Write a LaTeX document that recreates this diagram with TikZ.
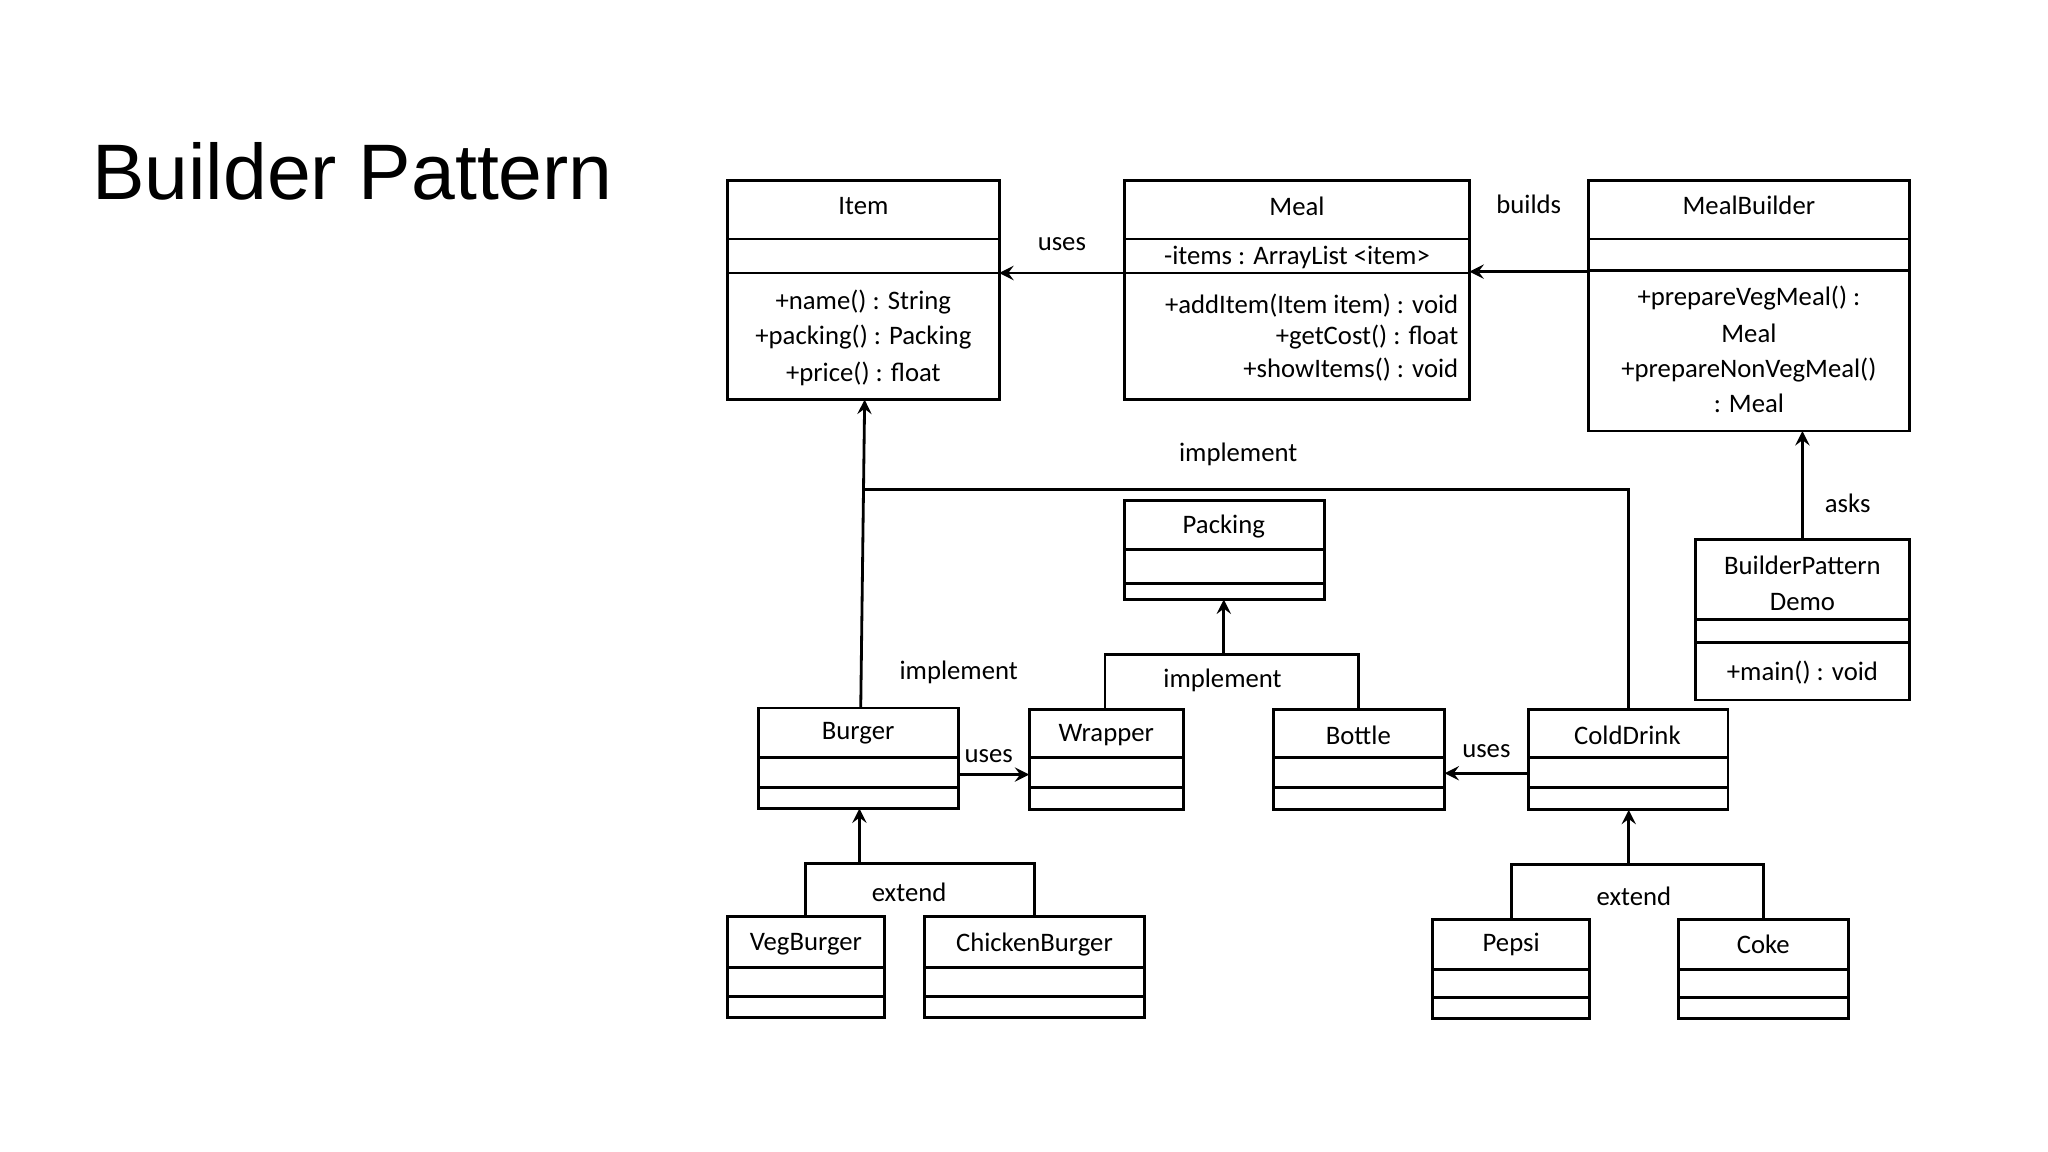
\documentclass[tikz,border=0pt]{standalone}
\usepackage{fontspec}
\setmainfont{Carlito}
\newfontfamily\titlefont{Liberation Sans}
\usetikzlibrary{calc}

\tikzset{
	box/.style = {thick},
	txt/.style = {font=\fontsize{7.6}{9}\selectfont, inner sep=0pt},
	conn/.style = {thick},
	arr/.style = {thick, -stealth}
}

% box with two compartment lines
\newcommand{\umlbox}[7]{%
	\draw[box] (#2,#3) rectangle (#4,#5);
	\draw[box] (#2,#6) -- (#4,#6);
	\draw[box] (#2,#7) -- (#4,#7);
	\coordinate (#1) at ($(#2,#3)!0.5!(#4,#5)$);
}

\begin{document}
\begin{tikzpicture}[x=0.01306cm, y=-0.01306cm]

	\useasboundingbox (0,0) rectangle (1568,882);

	% title
	\node[anchor=west, inner sep=0pt, font=\titlefont\fontsize{22.4}{26}\selectfont] (title) at (70,131) {Builder Pattern};

% Define boxes.

	\umlbox{item}{557}{138}{765}{306}{183}{209}
	\umlbox{meal}{861}{138}{1125}{306}{183}{209}
	\umlbox{mealBuilder}{1216}{138}{1462}{330}{183}{207}
	\umlbox{demo}{1298}{413}{1462}{536}{474}{492}
	\umlbox{packing}{861}{383}{1014}{459}{421}{447}
	\umlbox{burger}{581}{542}{734}{619}{580}{603}
	\umlbox{wrapper}{788}{543}{906}{620}{580}{603}
	\umlbox{bottle}{975}{543}{1106}{620}{580}{603}
	\umlbox{coldDrink}{1170}{543}{1323}{620}{580}{603}
	\umlbox{vegBurger}{557}{702}{677}{779}{741}{763}
	\umlbox{chickenBurger}{708}{702}{876}{779}{741}{763}
	\umlbox{pepsi}{1097}{704}{1217}{780}{742}{764}
	\umlbox{coke}{1285}{704}{1415}{780}{742}{764}

% Texts.

	\node[txt] (itemName) at (661,158) {Item};
	\node[txt] (itemM1) at (661,231) {+name() : String};
	\node[txt] (itemM2) at (661,258) {+packing() : Packing};
	\node[txt] (itemM3) at (661,286) {+price() : float};

	\node[txt] (mealName) at (993,158) {Meal};
	\node[txt] (mealAttr) at (993,197) {-items : ArrayList <item>};
	\node[txt, anchor=east] (mealM1) at (1117,234) {+addItem(Item item) : void};
	\node[txt, anchor=east] (mealM2) at (1117,258) {+getCost() : float};
	\node[txt, anchor=east] (mealM3) at (1117,283) {+showItems() : void};

	\node[txt] (builderName) at (1339,157) {MealBuilder};
	\node[txt] (builderM1) at (1339,228) {+prepareVegMeal() :};
	\node[txt] (builderM2) at (1339,255) {Meal};
	\node[txt] (builderM3) at (1339,283) {+prepareNonVegMeal()};
	\node[txt] (builderM4) at (1339,309) {: Meal};

	\node[txt] (demoName1) at (1380,433) {BuilderPattern};
	\node[txt] (demoName2) at (1380,461) {Demo};
	\node[txt] (demoM1) at (1380,515) {+main() : void};

	\node[txt] (packingName) at (937,403) {Packing};
	\node[txt] (burgerName) at (657,561) {Burger};
	\node[txt] (wrapperName) at (847,563) {Wrapper};
	\node[txt] (bottleName) at (1040,563) {Bottle};
	\node[txt] (coldDrinkName) at (1246,563) {ColdDrink};
	\node[txt] (vegBurgerName) at (617,723) {VegBurger};
	\node[txt] (chickenBurgerName) at (792,723) {ChickenBurger};
	\node[txt] (pepsiName) at (1157,723) {Pepsi};
	\node[txt] (cokeName) at (1350,723) {Coke};

% Connector end points.

	\coordinate (mealLeft) at (861,209);
	\coordinate (itemRight) at (765,209);
	\coordinate (builderLeft) at (1216,208);
	\coordinate (mealRight) at (1125,208);
	\coordinate (demoTop) at (1380,413);
	\coordinate (builderBottom) at (1380,330);
	\coordinate (burgerTop) at (659,542);
	\coordinate (itemBottom) at (662,306);
	\coordinate (implJoin) at (662,375);
	\coordinate (implCorner) at (1247,375);
	\coordinate (coldDrinkTop) at (1247,543);
	\coordinate (packJoin) at (937,501);
	\coordinate (packingBottom) at (937,459);
	\coordinate (burgerRight) at (734,593);
	\coordinate (wrapperLeft) at (788,593);
	\coordinate (coldDrinkLeft) at (1170,592);
	\coordinate (bottleRight) at (1106,592);
	\coordinate (burgerJoin) at (658,661);
	\coordinate (burgerBottom) at (658,619);
	\coordinate (drinkJoin) at (1247,662);
	\coordinate (coldDrinkBottom) at (1247,620);

% Draw connectors.

	\draw[arr] (mealLeft) -- (itemRight) node[txt, midway, above=6pt] {uses};
	\draw[arr] (builderLeft) -- (mealRight) node[txt, midway, above=16pt] {builds};
	\draw[arr] (demoTop) -- (builderBottom) node[txt, pos=0.33, right=6pt] {asks};

	\draw[arr] (burgerTop) -- (itemBottom);
	\draw[conn] (implJoin) -- (implCorner) -- (coldDrinkTop);
	\node[txt] (implLabel1) at (948,348) {implement};
	\node[txt] (implLabel2) at (734,515) {implement};

	\draw[arr] (packJoin) -- (packingBottom);
	\draw[conn] (846,543) -- (846,501) -- (1040,501) -- (1040,543);
	\node[txt] (implLabel3) at (936,521) {implement};

	\draw[arr] (burgerRight) -- (wrapperLeft);
	\node[txt] (usesLabel1) at (757,579) {uses};
	\draw[arr] (coldDrinkLeft) -- (bottleRight);
	\node[txt] (usesLabel2) at (1138,575) {uses};

	\draw[arr] (burgerJoin) -- (burgerBottom);
	\draw[conn] (617,702) -- (617,661) -- (792,661) -- (792,702);
	\node[txt] (extendLabel1) at (696,683) {extend};

	\draw[arr] (drinkJoin) -- (coldDrinkBottom);
	\draw[conn] (1157,704) -- (1157,662) -- (1350,662) -- (1350,704);
	\node[txt] (extendLabel2) at (1251,686) {extend};

\end{tikzpicture}
\end{document}
